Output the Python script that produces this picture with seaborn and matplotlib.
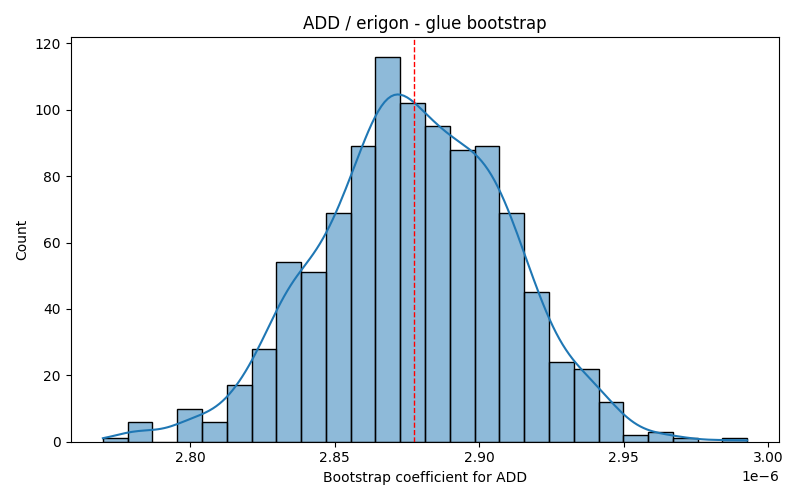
import numpy as np
import pandas as pd
import seaborn as sns
import matplotlib.pyplot as plt

# bootstrap histogram: 26 equal bins between lo and hi (x 1e-6)
bin_lo = 2.7698e-6
bin_hi = 2.9927e-6
counts = [1, 6, 0, 10, 6, 17, 28, 54, 51, 69, 89, 116, 102,
          95, 88, 89, 69, 45, 24, 22, 12, 2, 3, 1, 0, 1]
point_estimate = 2.8774e-6


def main():
    edges = np.linspace(bin_lo, bin_hi, len(counts) + 1)
    centers = (edges[:-1] + edges[1:]) / 2
    df = pd.DataFrame({'coef': centers, 'n': counts})

    fig = plt.figure(figsize=(8, 5), dpi=100)
    ax = plt.subplot(111)
    # weighted kde has small effective n, so narrow the bandwidth back
    sns.histplot(data=df, x='coef', weights='n', bins=len(counts),
                 binrange=(bin_lo, bin_hi), kde=True, ax=ax,
                 kde_kws={'cut': 1, 'clip': (bin_lo, bin_hi), 'bw_adjust': 0.39})
    ax.axvline(point_estimate, color='red', linestyle='--', linewidth=1)
    ax.set_xlabel('Bootstrap coefficient for ADD')
    ax.set_ylabel('Count')
    ax.set_title('ADD / erigon - glue bootstrap')
    plt.tight_layout()
    plt.savefig('out.png', dpi=100)
    fig.clf()


if __name__ == '__main__':
    main()
